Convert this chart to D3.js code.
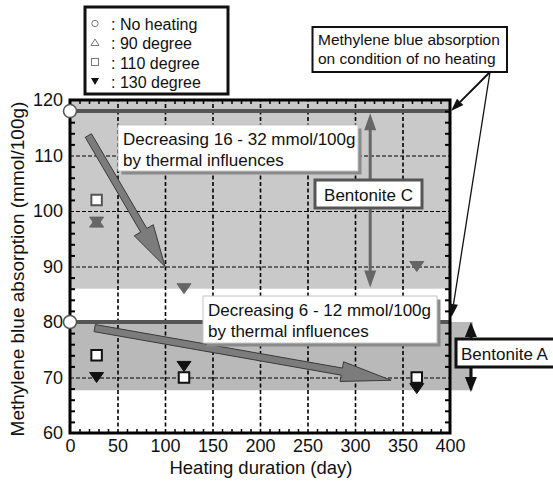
<!DOCTYPE html>
<html><head><meta charset="utf-8">
<script src="https://cdn.jsdelivr.net/npm/d3@7"></script>
<style>
body{margin:0;background:#fff;}
svg{display:block;font-family:"Liberation Sans",Arial,sans-serif;}
</style></head>
<body><svg id="c" width="553" height="481"></svg>
<script>
// ---------- data ----------
const days = [28, 120, 365];
// Bentonite C (gray markers)
const noHeatC = 118;
const deg90C  = [98, null, null];
const deg110C = [102, null, null];
const deg130C = [98, 86, 90];
// Bentonite A (black markers)
const noHeatA = 80;
const deg110A = [74, 70, 70];
const deg130A = [70, 72, 68];
// ranges after heating
const bandC = [86, 120];
const bandA = [67.7, 80];
const xTicks = [0, 50, 100, 150, 200, 250, 300, 350, 400];
const yTicks = [60, 70, 80, 90, 100, 110, 120];
const legendLabels = [": No heating", ": 90 degree", ": 110 degree", ": 130 degree"];
const arrowC = [[19.3, 113.6], [100, 90]];
const arrowA = [[26, 78.9], [338, 69.5]];
const rangeArrowC = [316, 117.6, 86.2];
const rangeArrowA = [422, 80, 67.4];

// ---------- scales ----------
const svg = d3.select("#c");
const x = d3.scaleLinear().domain([0, 400]).range([70, 450]);
const y = d3.scaleLinear().domain([60, 120]).range([433, 100]);
const X0 = x(0), X1 = x(400), Y0 = y(60), Y1 = y(120);

// bands
svg.append("rect").attr("x", X0).attr("width", X1 - X0)
  .attr("y", y(bandC[1])).attr("height", y(bandC[0]) - y(bandC[1])).attr("fill", "#c9c9c9");
svg.append("rect").attr("x", X0).attr("width", x(424) - X0)
  .attr("y", y(bandA[1])).attr("height", y(bandA[0]) - y(bandA[1])).attr("fill", "#b9b9b9");

// gridlines
svg.append("g").attr("transform", `translate(0,${Y0})`)
  .call(d3.axisBottom(x).tickValues(xTicks.slice(1, -1)).tickSize(-(Y0 - Y1)).tickFormat(""))
  .call(g => g.select(".domain").remove())
  .call(g => g.selectAll("line").attr("stroke", "#000").attr("stroke-width", 1.6).attr("stroke-dasharray", "4,2.5"));
svg.append("g").attr("transform", `translate(${X0},0)`)
  .call(d3.axisLeft(y).tickValues(yTicks.slice(1, -1)).tickSize(-(X1 - X0)).tickFormat(""))
  .call(g => g.select(".domain").remove())
  .call(g => g.selectAll("line").attr("stroke", "#000").attr("stroke-width", 1.2).attr("stroke-dasharray", "4,2"));

// no-heating lines
[noHeatC, noHeatA].forEach(v => {
  svg.append("line").attr("x1", X0).attr("x2", X1).attr("y1", y(v)).attr("y2", y(v))
    .attr("stroke", "#555").attr("stroke-width", 4);
});

// big arrows
function arrowPts(p1, p2, s, h, L) {
  const dx = p2[0] - p1[0], dy = p2[1] - p1[1], len = Math.hypot(dx, dy);
  const ux = dx / len, uy = dy / len, nx = -uy, ny = ux;
  const bx = p2[0] - ux * L, by = p2[1] - uy * L;
  return [[p1[0] + nx * s, p1[1] + ny * s], [bx + nx * s, by + ny * s], [bx + nx * h, by + ny * h], p2,
          [bx - nx * h, by - ny * h], [bx - nx * s, by - ny * s], [p1[0] - nx * s, p1[1] - ny * s]];
}
[[arrowC, 42, 11], [arrowA, 50, 10]].forEach(([a, L, h]) => {
  const p1 = [x(a[0][0]), y(a[0][1])], p2 = [x(a[1][0]), y(a[1][1])];
  svg.append("polygon").attr("points", arrowPts(p1, p2, 3.6, h, L).map(p => p.join(",")).join(" "))
    .attr("fill", "#7c7c7c").attr("stroke", "#3a3a3a").attr("stroke-width", 1);
});

// markers
const sq = d3.symbol().type(d3.symbolSquare).size(110);
function triPath(cx, cy, up) {
  const w = 7, h = 10, s = up ? -1 : 1;
  return `M${cx - w},${cy - s * h / 2}L${cx + w},${cy - s * h / 2}L${cx},${cy + s * h / 2}Z`;
}
function drawSeries(vals, kind, color, fill) {
  vals.forEach((v, i) => {
    if (v == null) return;
    const cx = x(days[i]), cy = y(v);
    if (kind === "sq") {
      svg.append("path").attr("d", sq).attr("transform", `translate(${cx},${cy})`)
        .attr("fill", "#fff").attr("stroke", color).attr("stroke-width", 2);
    } else {
      svg.append("path").attr("d", triPath(cx, cy, kind === "up"))
        .attr("fill", fill).attr("stroke", color).attr("stroke-width", 1);
    }
  });
}
drawSeries(deg110C, "sq", "#555", "#fff");
drawSeries(deg90C, "up", "#666", "#666");
drawSeries(deg130C, "down", "#666", "#666");
drawSeries(deg110A, "sq", "#111", "#fff");
drawSeries(deg130A, "down", "#111", "#111");

// text boxes with shadow
function noteBox(x0, y0, w, hh, lines, size, base, lh) {
  svg.append("rect").attr("x", x0 + 3.5).attr("y", y0 + 3.5).attr("width", w).attr("height", hh).attr("fill", "#8a8a8a");
  svg.append("rect").attr("x", x0).attr("y", y0).attr("width", w).attr("height", hh)
    .attr("fill", "#fff").attr("stroke", "#c4c4c4").attr("stroke-width", 1);
  lines.forEach((t, i) => svg.append("text").attr("x", x0 + 5).attr("y", base + i * lh)
    .attr("font-size", size).attr("fill", "#111").text(t));
}
noteBox(118, 125, 240, 46, ["Decreasing 16 - 32 mmol/100g", "by thermal influences"], 17, 145, 21);
noteBox(203, 296, 234, 47, ["Decreasing 6 - 12 mmol/100g", "by thermal influences"], 17, 316, 21);

// range arrows
function rangeArrow(r, color, L, hw) {
  const cx = x(r[0]), yt = y(r[1]), yb = y(r[2]);
  svg.append("line").attr("x1", cx).attr("x2", cx).attr("y1", yt + L - 1).attr("y2", yb - L + 1)
    .attr("stroke", color).attr("stroke-width", 3);
  svg.append("path").attr("d", `M${cx},${yt}L${cx - hw},${yt + L}L${cx + hw},${yt + L}Z`).attr("fill", color);
  svg.append("path").attr("d", `M${cx},${yb}L${cx - hw},${yb - L}L${cx + hw},${yb - L}Z`).attr("fill", color);
}
rangeArrow(rangeArrowC, "#666", 17, 6);
rangeArrow(rangeArrowA, "#111", 15, 6);
svg.append("rect").attr("x", 315).attr("y", 180).attr("width", 107).attr("height", 28)
  .attr("fill", "#fff").attr("stroke", "#555").attr("stroke-width", 3);
svg.append("text").attr("x", 368.5).attr("y", 200.5).attr("text-anchor", "middle").attr("font-size", 17).attr("fill", "#111").text("Bentonite C");
svg.append("rect").attr("x", 456).attr("y", 339).attr("width", 120).attr("height", 28)
  .attr("fill", "#fff").attr("stroke", "#111").attr("stroke-width", 3);
svg.append("text").attr("x", 461).attr("y", 359.5).attr("font-size", 17).attr("fill", "#111").text("Bentonite A");

// minor ticks
const xMinor = d3.range(10, 400, 10).filter(v => v % 50 !== 0);
const yMinor = d3.range(62, 120, 2).filter(v => v % 10 !== 0);
svg.append("g").attr("transform", `translate(0,${Y0})`)
  .call(d3.axisBottom(x).tickValues(xMinor).tickSize(-4).tickFormat(""))
  .call(g => g.select(".domain").remove()).call(g => g.selectAll("line").attr("stroke-width", 1.5));
svg.append("g").attr("transform", `translate(0,${Y1})`)
  .call(d3.axisTop(x).tickValues(xMinor).tickSize(-4).tickFormat(""))
  .call(g => g.select(".domain").remove()).call(g => g.selectAll("line").attr("stroke-width", 1.5));
svg.append("g").attr("transform", `translate(${X0},0)`)
  .call(d3.axisLeft(y).tickValues(yMinor).tickSize(-5).tickFormat(""))
  .call(g => g.select(".domain").remove()).call(g => g.selectAll("line").attr("stroke-width", 2));
svg.append("g").attr("transform", `translate(${X1},0)`)
  .call(d3.axisRight(y).tickValues(yMinor).tickSize(-5).tickFormat(""))
  .call(g => g.select(".domain").remove()).call(g => g.selectAll("line").attr("stroke-width", 2));

// frame
svg.append("rect").attr("x", X0).attr("y", Y1).attr("width", X1 - X0).attr("height", Y0 - Y1)
  .attr("fill", "none").attr("stroke", "#000").attr("stroke-width", 3);

// tick labels
svg.append("g").attr("transform", `translate(0,${Y0})`)
  .call(d3.axisBottom(x).tickValues(xTicks).tickSize(0).tickPadding(6))
  .call(g => g.select(".domain").remove())
  .call(g => g.selectAll("text").attr("font-size", 18).attr("font-family", "Liberation Sans, Arial").attr("fill", "#111"));
svg.append("g").attr("transform", `translate(${X0},0)`)
  .call(d3.axisLeft(y).tickValues(yTicks).tickSize(0).tickPadding(7))
  .call(g => g.select(".domain").remove())
  .call(g => g.selectAll("text").attr("font-size", 18).attr("font-family", "Liberation Sans, Arial").attr("fill", "#111"));

// no-heating circles
[noHeatC, noHeatA].forEach(v => {
  svg.append("circle").attr("cx", x(0)).attr("cy", y(v)).attr("r", 6.5)
    .attr("fill", "#fff").attr("stroke", "#555").attr("stroke-width", 1.5);
});

// axis titles
svg.append("text").attr("x", 261).attr("y", 473.5).attr("text-anchor", "middle").attr("font-size", 18.5).attr("fill", "#111")
  .text("Heating duration (day)");
svg.append("text").attr("transform", "translate(24,269) rotate(-90)").attr("text-anchor", "middle").attr("font-size", 19).attr("fill", "#111")
  .text("Methylene blue absorption (mmol/100g)");

// legend
svg.append("rect").attr("x", 85).attr("y", 7).attr("width", 143).attr("height", 87)
  .attr("fill", "#fff").attr("stroke", "#111").attr("stroke-width", 3);
const ly = [23.5, 42.5, 62, 81];
svg.append("circle").attr("cx", 95).attr("cy", ly[0]).attr("r", 3.2).attr("fill", "none").attr("stroke", "#777").attr("stroke-width", 1);
svg.append("path").attr("d", `M95,${ly[1] - 3.5}L99,${ly[1] + 3}L91,${ly[1] + 3}Z`).attr("fill", "none").attr("stroke", "#777").attr("stroke-width", 1);
svg.append("rect").attr("x", 91.5).attr("y", ly[2] - 3.5).attr("width", 7).attr("height", 7).attr("fill", "none").attr("stroke", "#777").attr("stroke-width", 1);
svg.append("path").attr("d", `M91,${ly[3] - 3}L99,${ly[3] - 3}L95,${ly[3] + 4}Z`).attr("fill", "#111");
legendLabels.forEach((t, i) => svg.append("text").attr("x", 111).attr("y", ly[i] + 6.5)
  .attr("font-size", 16).attr("fill", "#111").text(t));

// note box
svg.append("rect").attr("x", 312.5).attr("y", 27).attr("width", 194.5).attr("height", 45)
  .attr("fill", "#fff").attr("stroke", "#111").attr("stroke-width", 2);
svg.append("text").attr("x", 318).attr("y", 45).attr("font-size", 15.5).attr("fill", "#111").text("Methylene blue absorption");
svg.append("text").attr("x", 318).attr("y", 64).attr("font-size", 15.5).attr("fill", "#111").text("on condition of no heating");

// note pointers
function pointer(x1, y1, x2, y2, w) {
  const dx = x2 - x1, dy = y2 - y1, len = Math.hypot(dx, dy), ux = dx / len, uy = dy / len;
  const L = 13, h = 4.5, bx = x2 - ux * L, by = y2 - uy * L;
  svg.append("line").attr("x1", x1).attr("y1", y1).attr("x2", bx).attr("y2", by).attr("stroke", "#111").attr("stroke-width", w);
  svg.append("path").attr("d", `M${x2},${y2}L${bx - uy * h},${by + ux * h}L${bx + uy * h},${by - ux * h}Z`).attr("fill", "#111");
}
pointer(490, 72, x(400) + 1, y(noHeatC), 2);
pointer(490, 72, x(400) + 1.5, y(noHeatA) - 5, 1.3);
</script></body></html>
